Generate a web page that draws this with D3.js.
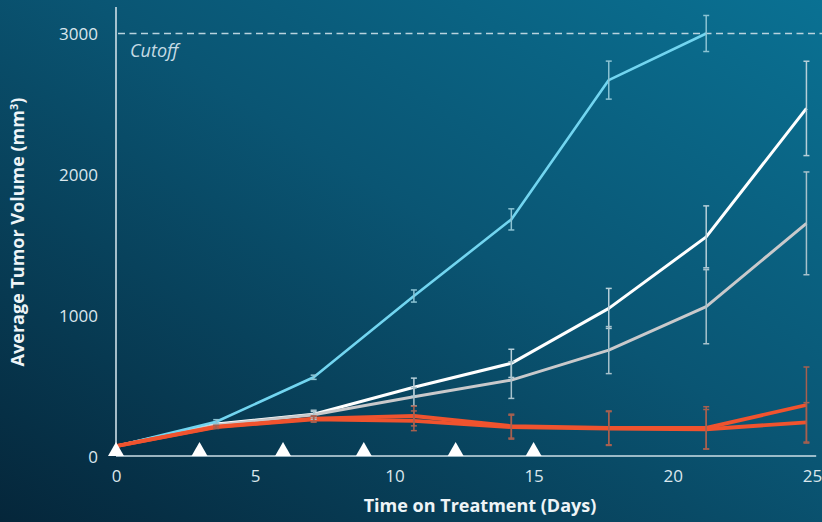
<!DOCTYPE html>
<html>
<head>
<meta charset="utf-8">
<script src="https://cdn.jsdelivr.net/npm/d3@7"></script>
<style>
  html, body { margin: 0; padding: 0; background: #072b3d; }
  svg { display: block; }
  .tick text { font-family: "Open Sans", sans-serif; font-size: 17px; fill: #dbe7ed; }
  .axis-title { font-family: "Open Sans", sans-serif; font-weight: 700; font-size: 18px; fill: #eef4f7; }
</style>
</head>
<body>
<svg width="822" height="522"></svg>
<script>
// Data
const days = [0, 3.6, 7.1, 10.7, 14.2, 17.7, 21.2, 24.8];
const blueVolume = [70, 243, 559, 1136, 1680, 2669, 3000];
const blueError = [0, 15, 15, 43, 75, 135, 128];
const whiteVolume = [70, 227, 296, 488, 658, 1048, 1556, 2468];
const whiteError = [0, 0, 20, 65, 100, 142, 220, 335];
const grayVolume = [70, 220, 293, 421, 539, 752, 1060, 1652];
const grayError = [0, 0, 32, 65, 130, 167, 263, 365];
const redAVolume = [70, 208, 265, 284, 212, 200, 200, 362];
const redAError = [0, 10, 20, 70, 85, 120, 150, 270];
const redBVolume = [70, 205, 260, 250, 205, 195, 190, 239];
const redBError = [0, 10, 20, 70, 85, 120, 140, 140];
const doseDays = [0, 3, 6, 8.9, 12.2, 15];
const xTicks = [0, 5, 10, 15, 20, 25];
const yTicks = [0, 1000, 2000, 3000];
const cutoffValue = 3000;

const svg = d3.select("svg");
const svgWidth = Number(svg.attr("width"));
const svgHeight = Number(svg.attr("height"));

// background gradient
const defs = svg.append("defs");
const grad = defs.append("linearGradient")
    .attr("id", "bg").attr("x1", 0).attr("y1", 1).attr("x2", 1).attr("y2", 0);
grad.append("stop").attr("offset", "0%").attr("stop-color", "#05263a");
grad.append("stop").attr("offset", "55%").attr("stop-color", "#0a5573");
grad.append("stop").attr("offset", "100%").attr("stop-color", "#0a7193");
svg.append("rect").attr("width", svgWidth).attr("height", svgHeight).attr("fill", "url(#bg)");

const xScale = d3.scaleLinear().domain([0, 25]).range([116, 812]);
const yScale = d3.scaleLinear().domain([0, 3000]).range([456, 33.5]);

// axes
const axisColor = "#cddfe7";
svg.append("g")
    .attr("transform", `translate(0, ${yScale(0)})`)
    .call(d3.axisBottom(xScale).tickValues(xTicks).tickSize(0).tickPadding(14))
    .call(g => g.select(".domain").remove());
svg.append("g")
    .attr("transform", `translate(${xScale(0)}, 0)`)
    .call(d3.axisLeft(yScale).tickValues(yTicks).tickFormat(d3.format("d")).tickSize(0).tickPadding(18))
    .call(g => g.select(".domain").remove())
    .call(g => g.selectAll(".tick text").attr("dy", "0.36em"));

svg.append("line")
    .attr("x1", xScale(0)).attr("x2", xScale(25.15))
    .attr("y1", yScale(0)).attr("y2", yScale(0))
    .attr("stroke", axisColor).attr("stroke-width", 1.6);
svg.append("line")
    .attr("x1", xScale(0)).attr("x2", xScale(0))
    .attr("y1", yScale(0)).attr("y2", 7)
    .attr("stroke", axisColor).attr("stroke-width", 1.6);

// cutoff line
svg.append("line")
    .attr("x1", xScale(0) + 2).attr("x2", svgWidth)
    .attr("y1", yScale(cutoffValue)).attr("y2", yScale(cutoffValue))
    .attr("stroke", "#b9d3de").attr("stroke-width", 1.3)
    .attr("stroke-dasharray", "7,4.5");
svg.append("text")
    .attr("x", xScale(0) + 14).attr("y", yScale(cutoffValue) + 23)
    .attr("font-family", "Open Sans, sans-serif").attr("font-style", "italic")
    .attr("font-size", 18).attr("fill", "#c5dbe4")
    .text("Cutoff");

// axis titles
svg.append("text").attr("class", "axis-title")
    .attr("x", 480).attr("y", 512).attr("text-anchor", "middle")
    .text("Time on Treatment (Days)");
svg.append("text").attr("class", "axis-title")
    .attr("transform", "translate(24, 232) rotate(-90)")
    .attr("text-anchor", "middle")
    .html('Average Tumor Volume (mm<tspan dy="-6" font-size="11">3</tspan><tspan dy="6">)</tspan>');

// series
const series = [
    { values: whiteVolume, errors: whiteError, color: "#ffffff", width: 3, errColor: "#b7cfd9" },
    { values: grayVolume, errors: grayError, color: "#c9c9cb", width: 3, errColor: "#a8c2cc" },
    { values: blueVolume, errors: blueError, color: "#72d5f0", width: 2.6, errColor: "#8cc3d3" },
    { values: redBVolume, errors: redBError, color: "#f0532e", width: 3.8, errColor: "#a8604f" },
    { values: redAVolume, errors: redAError, color: "#f0532e", width: 3.8, errColor: "#a8604f" }
];

const line = d3.line().x(d => xScale(d.day)).y(d => yScale(d.v));
const capHalf = 3;

const errGroup = svg.append("g");
const lineGroup = svg.append("g");

series.forEach(s => {
    const pts = s.values.map((v, i) => ({ day: days[i], v: v, e: s.errors[i] }));
    lineGroup.append("path")
        .datum(pts)
        .attr("fill", "none")
        .attr("stroke", s.color)
        .attr("stroke-width", s.width)
        .attr("stroke-linejoin", "round")
        .attr("d", line);

    const bars = errGroup.selectAll(null)
        .data(pts.filter(d => d.e > 0))
        .enter().append("g")
        .attr("stroke", s.errColor).attr("stroke-width", 1.5);
    bars.append("line")
        .attr("x1", d => xScale(d.day)).attr("x2", d => xScale(d.day))
        .attr("y1", d => yScale(d.v - d.e)).attr("y2", d => yScale(d.v + d.e));
    bars.append("line")
        .attr("x1", d => xScale(d.day) - capHalf).attr("x2", d => xScale(d.day) + capHalf)
        .attr("y1", d => yScale(d.v + d.e)).attr("y2", d => yScale(d.v + d.e));
    bars.append("line")
        .attr("x1", d => xScale(d.day) - capHalf).attr("x2", d => xScale(d.day) + capHalf)
        .attr("y1", d => yScale(d.v - d.e)).attr("y2", d => yScale(d.v - d.e));
});
lineGroup.raise();
errGroup.raise();

// dosing triangles
svg.append("g").selectAll("path")
    .data(doseDays)
    .enter().append("path")
    .attr("fill", "#ffffff")
    .attr("d", d => {
        const x = xScale(d), y = yScale(0);
        return `M${x - 8},${y} L${x + 8},${y} L${x},${y - 14} Z`;
    });
</script>
</body>
</html>
